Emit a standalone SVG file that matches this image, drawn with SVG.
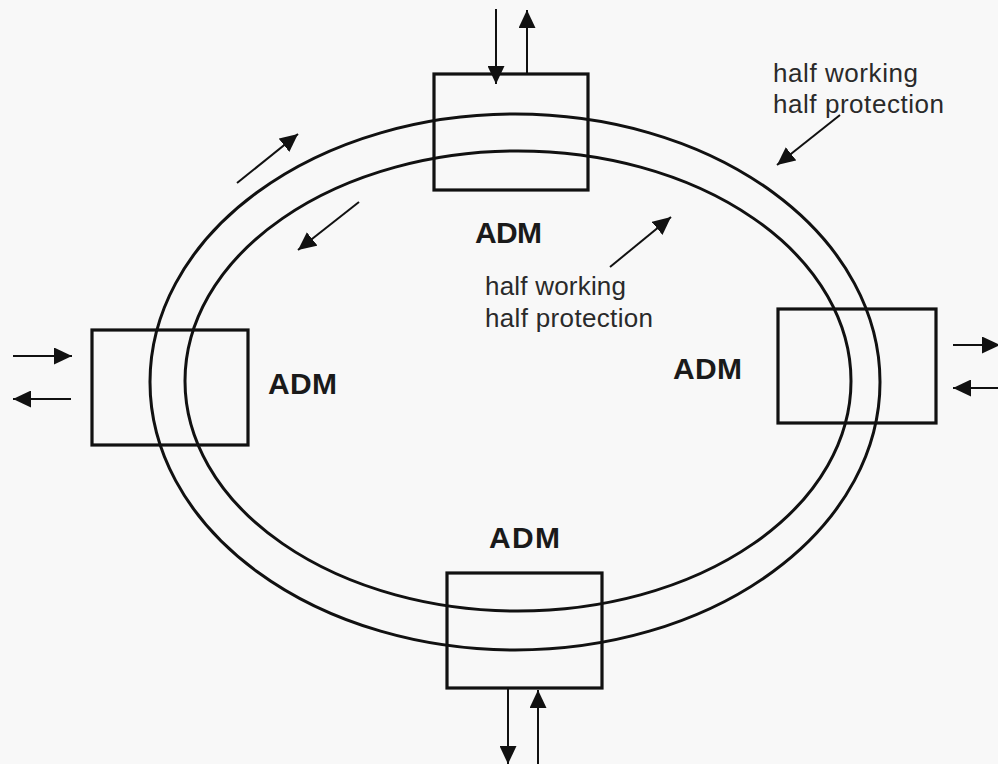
<svg xmlns="http://www.w3.org/2000/svg" width="998" height="764" viewBox="0 0 998 764">
<style>
.bg{fill:#f8f8f8}
.ring{fill:none;stroke:#111;stroke-width:3}
.box{fill:none;stroke:#111;stroke-width:3.2}
.arr{stroke:#111;stroke-width:2;fill:none;marker-end:url(#ah)}
.adm{font-family:"Liberation Sans",Arial,sans-serif;font-weight:bold;font-size:30px;fill:#1a1a1a}
.lbl{font-family:"Liberation Sans",Arial,sans-serif;font-size:26px;fill:#2a2a2a}
</style>
<defs>
<marker id="ah" markerUnits="userSpaceOnUse" markerWidth="19" markerHeight="17" refX="18" refY="8.5" orient="auto">
<path d="M0,0 L18,8.5 L0,17 z" fill="#111"/>
</marker>
</defs>
<rect class="bg" x="0" y="0" width="998" height="764"/>
<g id="ring">
<ellipse class="ring" cx="515" cy="382" rx="365" ry="268"/>
<ellipse class="ring" cx="518" cy="381" rx="333" ry="230"/>
</g>
<g id="adm-top">
<rect class="box" x="434" y="74" width="154" height="116"/>
<text class="adm" x="475" y="243" textLength="67">ADM</text>
</g>
<g id="adm-left">
<rect class="box" x="92" y="330" width="156" height="115"/>
<text class="adm" x="268" y="394" textLength="69">ADM</text>
</g>
<g id="adm-right">
<rect class="box" x="778" y="309" width="158" height="114"/>
<text class="adm" x="673" y="379" textLength="69">ADM</text>
</g>
<g id="adm-bottom">
<rect class="box" x="447" y="573" width="155" height="115"/>
<text class="adm" x="489" y="548" textLength="71">ADM</text>
</g>
<g id="labels">
<text class="lbl" x="773" y="82" textLength="145">half working</text>
<text class="lbl" x="773" y="113" textLength="171">half protection</text>
<text class="lbl" x="485" y="295" textLength="141">half working</text>
<text class="lbl" x="485" y="327" textLength="168">half protection</text>
</g>
<g id="connectors">
<line class="arr" x1="496" y1="9" x2="496" y2="84"/>
<line class="arr" x1="527" y1="74" x2="527" y2="10"/>
<line class="arr" x1="508" y1="688" x2="508" y2="764"/>
<line class="arr" x1="538" y1="764" x2="538" y2="690"/>
<line class="arr" x1="13" y1="356" x2="72" y2="356"/>
<line class="arr" x1="71" y1="399" x2="13" y2="399"/>
<line class="arr" x1="953" y1="345" x2="1000" y2="345"/>
<line class="arr" x1="998" y1="388" x2="953" y2="388"/>
<line class="arr" x1="237" y1="183" x2="298" y2="134"/>
<line class="arr" x1="359" y1="202" x2="298" y2="250"/>
<line class="arr" x1="840" y1="115" x2="777" y2="165"/>
<line class="arr" x1="610" y1="267" x2="671" y2="217"/>
</g>
</svg>
